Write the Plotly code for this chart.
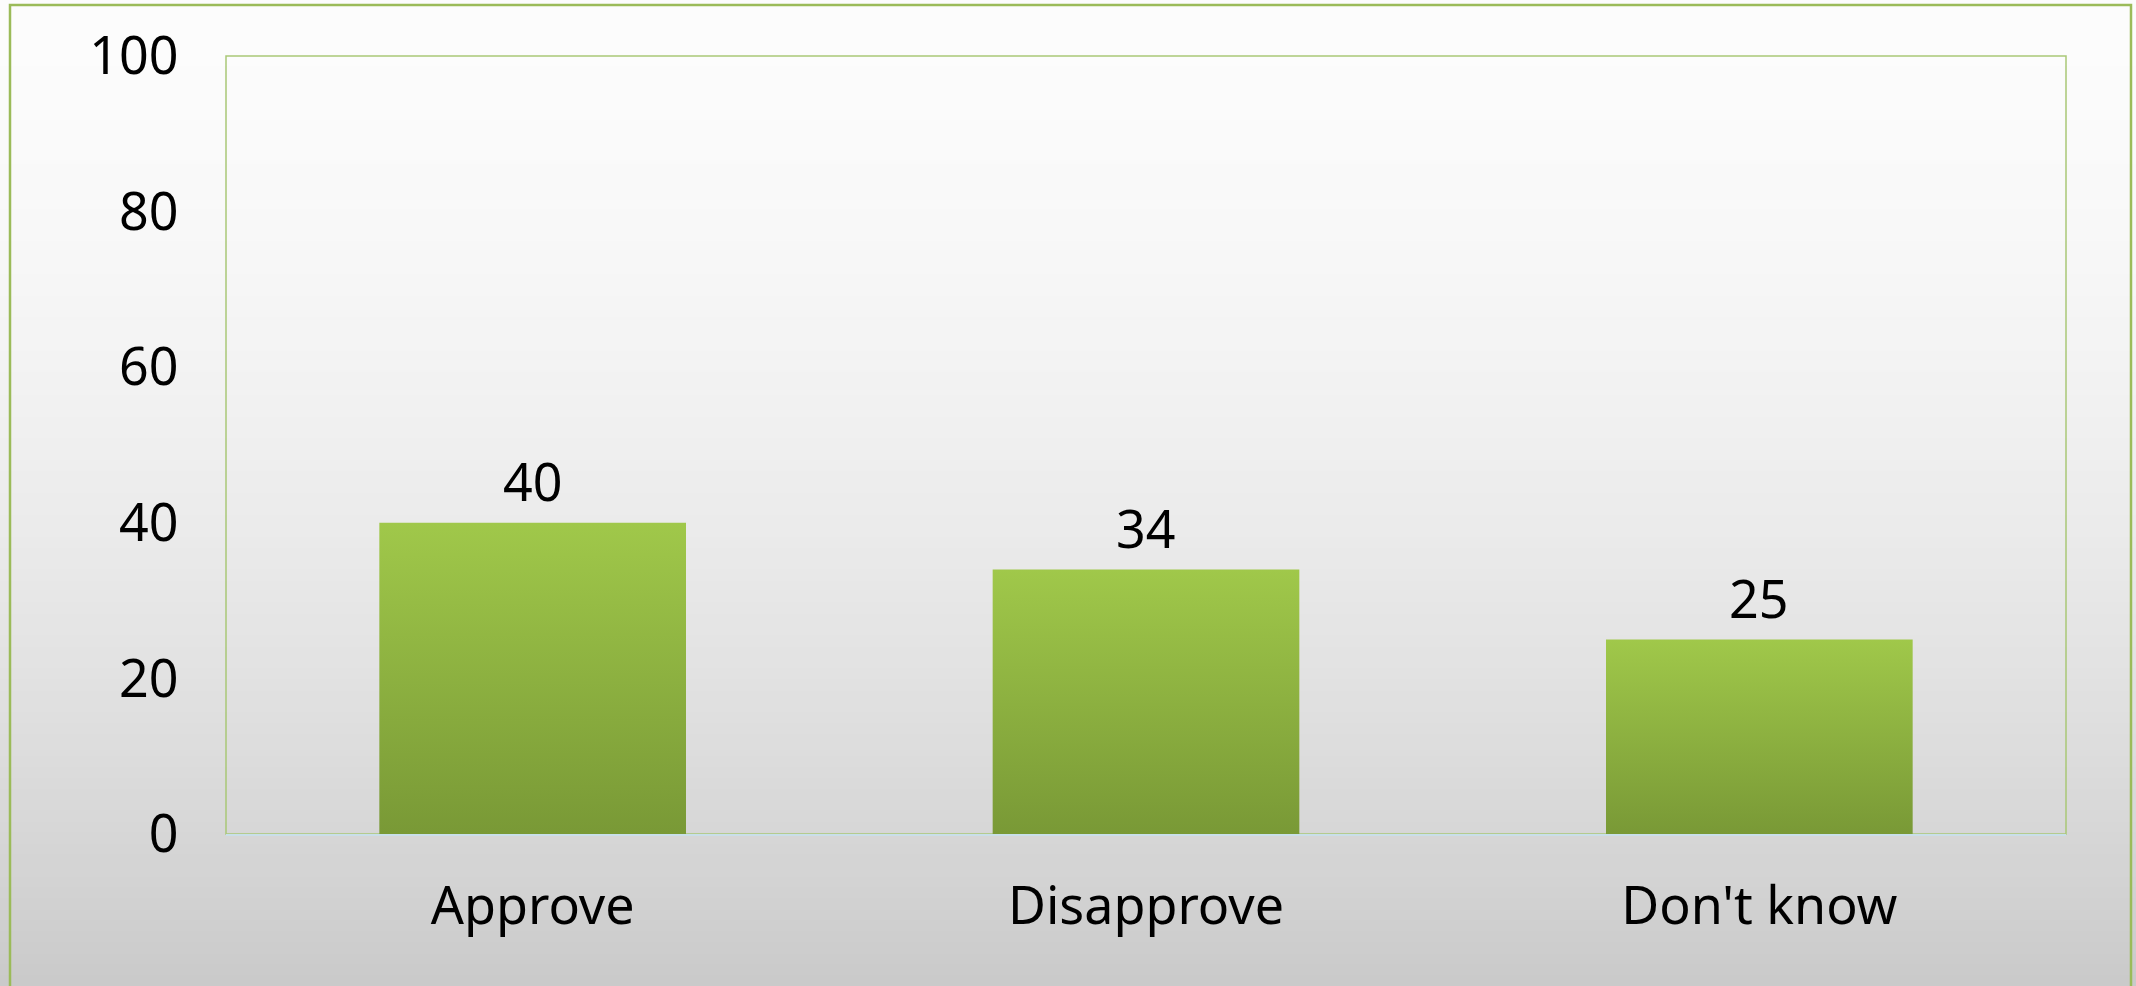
import plotly.graph_objects as go

# ---- data ----
categories = ["Approve", "Disapprove", "Don't know"]
values = [40, 34, 25]
y_ticks = [0, 20, 40, 60, 80, 100]

# ---- style ----
W, H = 2136, 986
ML, MR, MT, MB = 226, 70, 56, 152
PW, PH = W - ML - MR, H - MT - MB
FONT = "Noto Sans, DejaVu Sans, sans-serif"
BAR_TOP = "#a0c84a"
BAR_BOT = "#799936"
HALF = 0.25

fig = go.Figure()

# bars drawn as filled polygons with vertical gradient
for i, (cat, v) in enumerate(zip(categories, values)):
    fig.add_trace(go.Scatter(
        x=[i - HALF, i + HALF, i + HALF, i - HALF, i - HALF],
        y=[0, 0, v, v, 0],
        mode="lines",
        line=dict(width=0),
        fill="toself",
        fillgradient=dict(type="vertical",
                          colorscale=[[0, BAR_BOT], [1, BAR_TOP]],
                          start=0, stop=v),
        name=cat,
        hoverinfo="skip",
        showlegend=False,
    ))

# data labels
for i, v in enumerate(values):
    fig.add_annotation(x=i, y=v, text=str(v), showarrow=False,
                       yanchor="middle", yshift=42,
                       font=dict(family=FONT, size=52, color="#000000"))

# background gradient (slide look)
shapes = []
def px_to_py(y):
    return (H - MB - y) / PH
def px_to_px(x):
    return (x - ML) / PW
n = 90
top_c, bot_c = 252, 202
for k in range(n):
    y0p = k * H / n
    y1p = (k + 1) * H / n + 1
    t = (k + 0.5) / n
    c = round(top_c + (bot_c - top_c) * t ** 1.7)
    shapes.append(dict(type="rect", xref="paper", yref="paper",
                       x0=px_to_px(0), x1=px_to_px(W),
                       y0=px_to_py(y1p), y1=px_to_py(y0p),
                       fillcolor=f"rgb({c},{c},{c})", line=dict(width=0),
                       layer="below"))
# outer green border
shapes.append(dict(type="rect", xref="paper", yref="paper",
                   x0=px_to_px(10), x1=px_to_px(2131),
                   y0=px_to_py(H + 10), y1=px_to_py(5),
                   line=dict(color="#9bbb59", width=2.5),
                   fillcolor="rgba(0,0,0,0)", layer="below"))
# plot-area frame
shapes.append(dict(type="rect", xref="paper", yref="paper",
                   x0=0, x1=1, y0=0, y1=1,
                   line=dict(color="#a9c877", width=1.5),
                   fillcolor="rgba(0,0,0,0)", layer="below"))

fig.update_layout(
    width=W, height=H,
    margin=dict(l=ML, r=MR, t=MT, b=MB),
    paper_bgcolor="#eeeeee",
    plot_bgcolor="rgba(0,0,0,0)",
    shapes=shapes,
    showlegend=False,
    font=dict(family=FONT, size=52, color="#000000"),
    xaxis=dict(range=[-0.5, len(categories) - 0.5],
               tickvals=list(range(len(categories))), ticktext=categories,
               showgrid=False, zeroline=False,
               showline=True, linecolor="#c9dfe9", linewidth=2,
               ticks="outside", ticklen=26, tickcolor="rgba(0,0,0,0)",
               tickfont=dict(family=FONT, size=52, color="#000000"),
               fixedrange=True),
    yaxis=dict(range=[0, 100], tickvals=y_ticks,
               showgrid=False, zeroline=False, showline=False,
               ticks="outside", ticklen=36, tickcolor="rgba(0,0,0,0)",
               tickfont=dict(family=FONT, size=52, color="#000000"),
               fixedrange=True),
)

fig.write_html(
    "out.html",
    config={"displayModeBar": False},
    post_script="document.body.style.margin='0';document.body.style.overflow='hidden';",
)
